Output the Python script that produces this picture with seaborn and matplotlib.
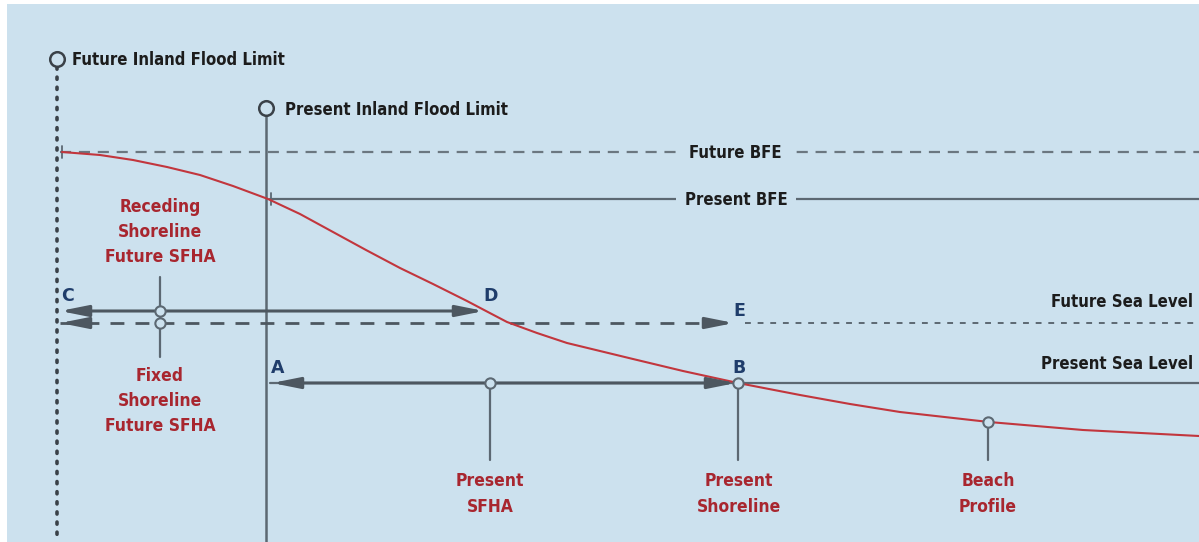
import matplotlib
matplotlib.use("Agg")
import matplotlib.pyplot as plt
import matplotlib.patches as mpatches
import seaborn as sns
import pandas as pd

# beach profile (x, y in picture units, y grows downward)
profile_x = [62, 100, 133, 167, 200, 233, 268, 300, 333, 366, 400, 433, 467, 486,
             507, 537, 567, 600, 633, 683, 738, 800, 850, 900, 989, 1083, 1199]
profile_y = [152, 155, 160, 167, 175, 186, 199, 214, 232, 250, 268, 284, 301, 311,
             322, 333, 343, 351, 359, 371, 383, 395, 404, 412, 422, 430, 436]

# levels
future_bfe = 152
present_bfe = 199
future_sea = 323
present_sea = 383
receding_line = 311

# limits
future_limit_x = 57
present_limit_x = 266

# labelled points
letters = ["C", "D", "E", "A", "B"]
letter_x = [68, 491, 739, 278, 739]
letter_y = [296, 296, 311, 368, 368]

marker_x = [160, 160, 490, 738, 988]
marker_y = [311, 323, 383, 383, 422]

red_labels = ["Receding\nShoreline\nFuture SFHA", "Fixed\nShoreline\nFuture SFHA",
              "Present\nSFHA", "Present\nShoreline", "Beach\nProfile"]
red_x = [160, 160, 490, 739, 988]
red_y = [232, 401, 494, 494, 494]

BG = "#cce1ee"
LINE = "#5c6872"
RED = "#a8262f"
CURVE = "#c2363d"
NAVY = "#1f3d6b"
INK = "#1c1c1c"

sns.set_style("white")
plt.rcParams['font.family'] = ['DejaVu Sans']
plt.rcParams['font.stretch'] = 'condensed'

fig = plt.figure(figsize=(11.99, 5.42), dpi=100)
ax = fig.add_axes([0, 0, 1, 1])

ax.add_patch(mpatches.Rectangle((7, 4), 1199, 542, facecolor=BG, edgecolor="none", zorder=0))

# inland flood limits
ax.plot([future_limit_x, future_limit_x], [67, 542], color="#3a4148", lw=2.6,
        linestyle=(0, (0.6, 2.2)), dash_capstyle="round")
ax.plot([present_limit_x, present_limit_x], [116, 542], color=LINE, lw=1.8)

# BFE lines
ax.plot([60, 1199], [future_bfe, future_bfe], color="#6b7780", lw=1.6, linestyle=(0, (5, 3.5)))
ax.plot([62, 62], [future_bfe - 6, future_bfe + 6], color=LINE, lw=1.3)
ax.plot([270, 1199], [present_bfe, present_bfe], color=LINE, lw=1.6)
ax.plot([271, 271], [present_bfe - 6, present_bfe + 6], color=LINE, lw=1.3)

# sea levels
ax.plot([60, 730], [future_sea, future_sea], color="#4d5760", lw=2.0, linestyle=(0, (5, 4)))
ax.plot([745, 1199], [future_sea, future_sea], color="#5c6872", lw=1.4, linestyle=(0, (3, 3.5)))
ax.plot([270, 1199], [present_sea, present_sea], color=LINE, lw=1.6)

arrow_kw = dict(arrowstyle="<|-|>,head_length=1.1,head_width=0.22", color="#4d5760",
                lw=2.2, shrinkA=0, shrinkB=0, mutation_scale=15)
ax.annotate("", xy=(60, receding_line), xytext=(484, receding_line), arrowprops=arrow_kw)
ax.annotate("", xy=(272, present_sea), xytext=(736, present_sea), arrowprops=arrow_kw)
head_kw = dict(arrowstyle="-|>,head_length=1.1,head_width=0.22", color="#4d5760",
               lw=2.2, shrinkA=0, shrinkB=0, mutation_scale=15)
ax.annotate("", xy=(60, future_sea), xytext=(82, future_sea), arrowprops=head_kw)
ax.annotate("", xy=(734, future_sea), xytext=(712, future_sea), arrowprops=head_kw)

# stems below markers
ax.plot([160, 160], [277, 357], color=LINE, lw=1.6)
for sx, sy in zip(marker_x[2:], marker_y[2:]):
    ax.plot([sx, sx], [sy, 460], color=LINE, lw=1.6)

# profile curve
curve = pd.DataFrame({"x": profile_x, "y": profile_y})
sns.lineplot(data=curve, x="x", y="y", sort=False, color=CURVE, lw=1.5, ax=ax)

# hollow markers
pts = pd.DataFrame({"x": marker_x, "y": marker_y})
sns.scatterplot(data=pts, x="x", y="y", s=55, facecolor=BG, edgecolor=LINE, linewidth=1.5,
                ax=ax, zorder=5)
tops = pd.DataFrame({"x": [future_limit_x, present_limit_x], "y": [59, 108]})
sns.scatterplot(data=tops, x="x", y="y", s=110, facecolor=BG, edgecolor="#3a4148",
                linewidth=1.8, ax=ax, zorder=5)
ax.set_xlim(0, 1199)
ax.set_ylim(542, 0)
ax.axis("off")

# texts
dark = dict(color=INK, fontsize=12, fontweight="bold", va="center")
ax.text(72, 60, "Future Inland Flood Limit", ha="left", **dark)
ax.text(285, 110, "Present Inland Flood Limit", ha="left", **dark)
box = dict(facecolor=BG, edgecolor="none", pad=6)
ax.text(735, 153, "Future BFE", ha="center", bbox=box, **dark)
ax.text(736, 200, "Present BFE", ha="center", bbox=box, **dark)
ax.text(1193, 302, "Future Sea Level", ha="right", **dark)
ax.text(1193, 364, "Present Sea Level", ha="right", **dark)

for lab, lx, ly in zip(red_labels, red_x, red_y):
    ax.text(lx, ly, lab, color=RED, fontsize=12.5, fontweight="bold", ha="center",
            va="center", linespacing=1.5)

for lab, lx, ly in zip(letters, letter_x, letter_y):
    ax.text(lx, ly, lab, color=NAVY, fontsize=12.5, fontweight="bold", ha="center",
            va="center", fontstretch="normal")

fig.savefig("out.png", dpi=100)
